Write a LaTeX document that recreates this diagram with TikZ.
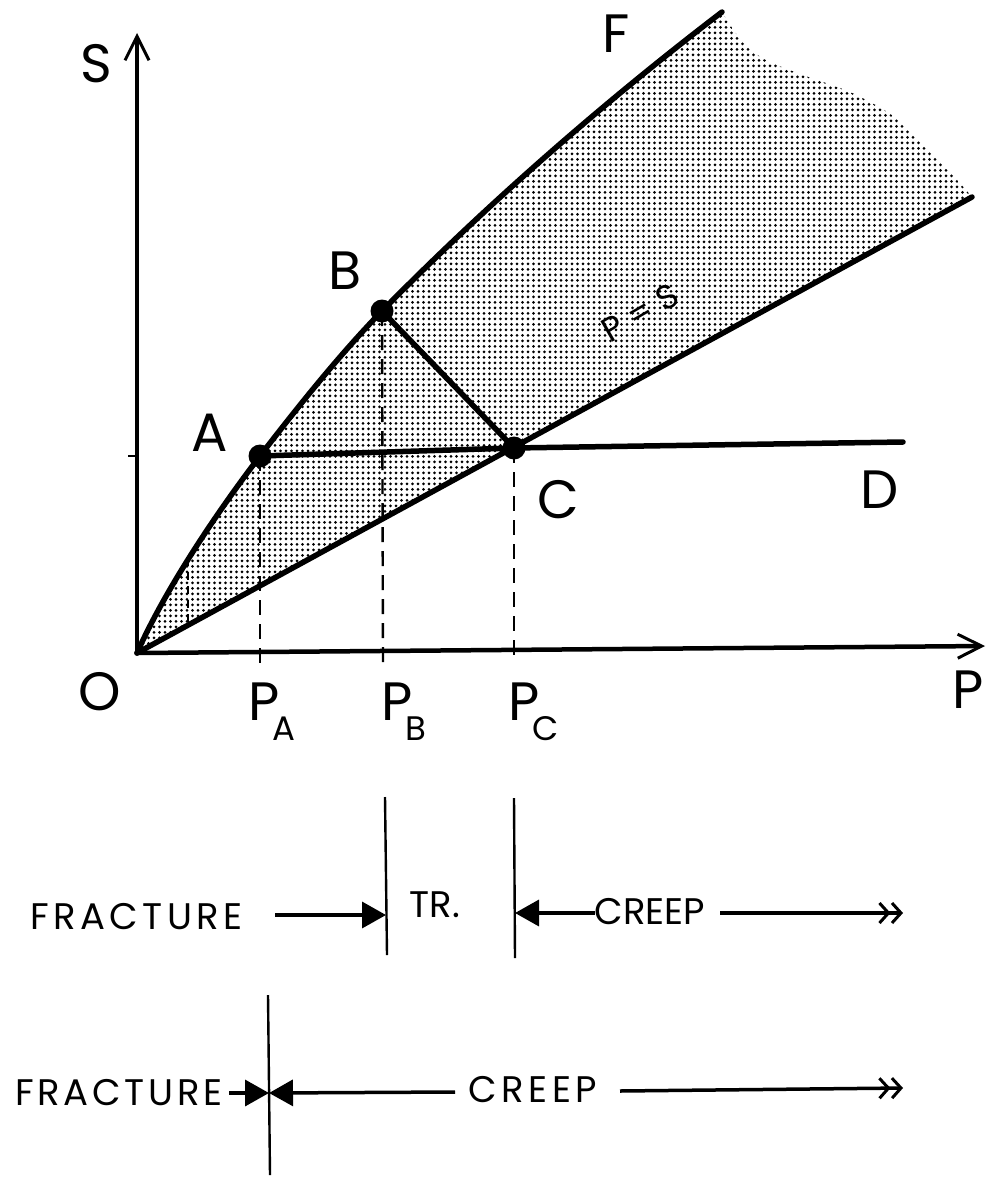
\documentclass[tikz,border=0pt]{standalone}
\usepackage{fontspec}
\setmainfont{Poppins}
\usetikzlibrary{arrows.meta,patterns.meta}
\begin{document}
\begin{tikzpicture}[x=1pt,y=-1pt,
  lbl/.style={font=\fontsize{54}{54}\selectfont, inner sep=0pt},
  sublbl/.style={font=\fontsize{34}{34}\selectfont, inner sep=0pt},
  small/.style={font=\fontsize{37}{37}\selectfont, inner sep=0pt},
  axis/.style={line width=4.5pt, -{Straight Barb[length=24pt,width=24pt,line width=3pt]}},
  heavy/.style={line width=5.5pt, line cap=round, line join=round},
  dashv/.style={line width=2.4pt, dash pattern=on 15pt off 9pt},
  faint/.style={line width=1.2pt, dash pattern=on 8pt off 6pt},
  dotpt/.style={circle, fill=black, inner sep=0pt, minimum size=23pt},
  vline/.style={line width=2.4pt},
  harrow/.style={line width=3.5pt, -{Triangle[length=24pt,width=26pt]}},
  darrow/.style={line width=3.5pt, -{Straight Barb[length=9pt,width=20pt,line width=3pt] Straight Barb[length=9pt,width=20pt,line width=3pt]}},
]
\useasboundingbox (0,0) rectangle (985,1177);
% key points
\coordinate (O) at (137,653);
\coordinate (A) at (260,456);
\coordinate (B) at (382,311);
\coordinate (C) at (514,448);
\coordinate (Dend) at (903,442);
\coordinate (Fend) at (722,12);
\coordinate (Eend) at (972,197);
\coordinate (Stip) at (137,33);
\coordinate (Ptip) at (985,646);
% shaded region
\fill[pattern={Dots[distance=5.5pt,radius=1.5pt]}]
  (O) .. controls (165,590) and (215,515) .. (A)
      .. controls (300,404) and (342,352) .. (B)
      .. controls (492,199) and (612,96) .. (Fend)
  -- plot[smooth] coordinates {(Fend) (738,36) (762,58) (800,74) (850,92) (893,116) (928,150) (957,180) (Eend)}
  -- cycle;
% axes
\draw[axis] (O) -- (Stip);
\draw[axis] (O) -- (Ptip);
\draw[line width=2.5pt] (O |- A) ++(-9,0) coordinate (Stick) -- (O |- A);
% curves and lines
\draw[heavy] (O) .. controls (165,590) and (215,515) .. (A)
      .. controls (300,404) and (342,352) .. (B)
      .. controls (492,199) and (612,96) .. (Fend);
\draw[heavy] (O) -- (Eend);
\draw[heavy] (A) -- (C);
\draw[heavy] (C) -- (Dend);
\draw[heavy] (B) -- (C);
% dashed drops
\coordinate (PAx) at (260,663);
\coordinate (PBx) at (383,665);
\coordinate (PCx) at (514,660);
\draw[dashv] (A) -- (PAx);
\draw[dashv] (B) -- (PBx);
\draw[dashv] (C) -- (PCx);
\coordinate (f1t) at (188,558);
\coordinate (f1b) at (188,626);
\draw[faint] (f1t) -- (f1b);
% points
\node[dotpt] (dA) at (A) {};
\node[dotpt] (dB) at (B) {};
\node[dotpt] (dC) at (C) {};
% labels
\node[lbl] (lS) at (96,64) {S};
\node[lbl] (lF) at (616,34) {F};
\node[lbl] (lB) at (345,271) {B};
\node[lbl] (lA) at (210,433) {A};
\node[lbl] (lC) at (558,500) {C};
\node[lbl] (lD) at (880,490) {D};
\node[lbl] (lO) at (100,692) {O};
\node[lbl] (lP) at (968,690) {P};
\node[sublbl, rotate=30] (lPS) at (640,313) {P = S};
\node[lbl, anchor=base west] (lPA) at (248,720) {P\kern-0.12em\raisebox{-20pt}{\fontsize{34}{34}\selectfont A}};
\node[lbl, anchor=base west] (lPB) at (381,720) {P\kern-0.12em\raisebox{-20pt}{\fontsize{34}{34}\selectfont B}};
\node[lbl, anchor=base west] (lPC) at (508,720) {P\kern-0.12em\raisebox{-20pt}{\fontsize{34}{34}\selectfont C}};
% bottom row 1
\coordinate (V1t) at (385,797);
\coordinate (V1m) at (386,915);
\coordinate (V1b) at (387,955);
\coordinate (V2t) at (514,798);
\coordinate (V2m) at (515,913);
\coordinate (V2b) at (515,958);
\draw[vline] (V1t) -- (V1b);
\draw[vline] (V2t) -- (V2b);
\node[small, anchor=west] (fr1) at (30,917) {\addfontfeature{LetterSpace=12}FRACTURE};
\node[small] (tr) at (435,905) {TR.};
\node[small] (cr1) at (650,912) {CREEP};
\coordinate (a1s) at (275,915);
\coordinate (a2s) at (595,913);
\coordinate (a3s) at (720,913);
\coordinate (a3e) at (903,913);
\draw[harrow] (a1s) -- (V1m);
\draw[harrow] (a2s) -- (V2m);
\draw[darrow] (a3s) -- (a3e);
% bottom row 2
\coordinate (V3t) at (268,995);
\coordinate (V3m) at (269,1093);
\coordinate (V3b) at (270,1175);
\draw[vline] (V3t) -- (V3b);
\node[small, anchor=west] (fr2) at (15,1093) {\addfontfeature{LetterSpace=10}FRACTURE};
\node[small] (cr2) at (533,1090) {\addfontfeature{LetterSpace=12}CREEP};
\coordinate (b1s) at (229,1093);
\coordinate (b2s) at (455,1092);
\coordinate (b3s) at (620,1091);
\coordinate (b3e) at (903,1088);
\draw[harrow] (b1s) -- (V3m);
\draw[harrow] (b2s) -- (V3m);
\draw[darrow] (b3s) -- (b3e);
\end{tikzpicture}
\end{document}
